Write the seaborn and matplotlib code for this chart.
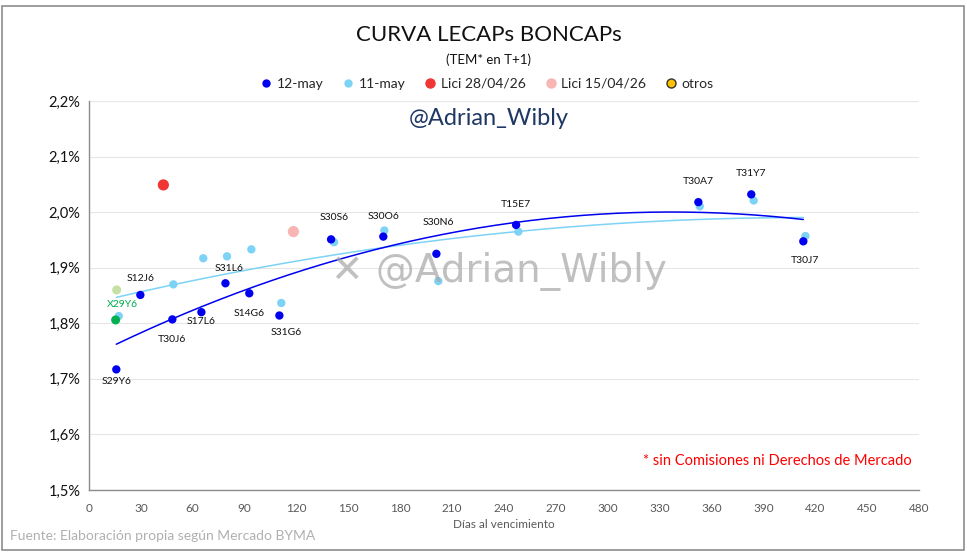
import numpy as np
import pandas as pd
import matplotlib
matplotlib.use("Agg")
import matplotlib.pyplot as plt
from matplotlib.patches import Rectangle
from matplotlib.lines import Line2D
import seaborn as sns

# ---------------- data ----------------
tickers = ["S29Y6", "S12J6", "T30J6", "S17L6", "S31L6", "S14G6", "S31G6",
           "S30S6", "S30O6", "S30N6", "T15E7", "T30A7", "T31Y7", "T30J7"]
dias_12 = [15.8, 29.7, 48.2, 65.0, 78.9, 92.7, 110.1, 140.0, 170.2, 200.9, 247.0, 352.4, 383.0, 413.1]
tem_12 = [1.717, 1.851, 1.807, 1.820, 1.872, 1.854, 1.814, 1.951, 1.956, 1.925, 1.977, 2.018, 2.032, 1.9475]
dias_11 = [17.2, 48.8, 66.1, 79.8, 93.9, 111.2, 141.7, 170.8, 202.0, 248.3, 353.2, 384.4, 414.3]
tem_11 = [1.813, 1.870, 1.917, 1.9205, 1.933, 1.8365, 1.946, 1.967, 1.876, 1.965, 2.0105, 2.021, 1.957]
lici_2804_x, lici_2804_y = [43.0], [2.049]
lici_1504_x, lici_1504_y = [118.2], [1.965]
otros_names = ["X29Y6", "X29Y6 (11-may)"]
otros_x = [15.4, 16.0]
otros_y = [1.806, 1.860]
otros_colors = ["#00B050", "#C5E0A5"]

label_offsets = {  # (dx days, dy %) for labels
    "S29Y6": (0, -0.021), "S12J6": (0, 0.030), "T30J6": (0, -0.036), "S17L6": (0, -0.016),
    "S31L6": (2, 0.027), "S14G6": (0, -0.037), "S31G6": (4, -0.030), "S30S6": (2, 0.040),
    "S30O6": (0, 0.037), "S30N6": (1, 0.057), "T15E7": (0, 0.036), "T30A7": (0, 0.038),
    "T31Y7": (0, 0.038), "T30J7": (1, -0.034),
}

df12 = pd.DataFrame({"dias": dias_12, "tem": tem_12, "ticker": tickers})
df11 = pd.DataFrame({"dias": dias_11, "tem": tem_11})

DARK = "#0000F0"
LIGHT = "#7DD3F5"
RED = "#F03535"
PINK = "#F9B4B4"
GOLD = "#FFC000"

sns.set_theme(style="white")
plt.rcParams["font.family"] = ["Lato", "DejaVu Sans"]

fig = plt.figure(figsize=(9.67, 5.54), dpi=100)
ax = fig.add_axes([89 / 967, 1 - 490 / 554, 830 / 967, 389 / 554])

# trend lines (polynomial fits as in the spreadsheet)
c12 = np.polyfit(df12["dias"], df12["tem"], 2)
c11 = np.polyfit(df11["dias"], df11["tem"], 2)
xs = np.linspace(min(dias_12), max(dias_12), 200)
ax.plot(xs, np.polyval(c11, xs), color=LIGHT, lw=1.1, zorder=3)
ax.plot(xs, np.polyval(c12, xs), color=DARK, lw=1.1, zorder=3)

sns.scatterplot(data=df11, x="dias", y="tem", color=LIGHT, s=36, edgecolor="none", ax=ax, zorder=4)
sns.scatterplot(data=df12, x="dias", y="tem", color=DARK, s=36, edgecolor="none", ax=ax, zorder=5)
ax.scatter(lici_2804_x, lici_2804_y, color=RED, s=65, edgecolor="none", zorder=5)
ax.scatter(lici_1504_x, lici_1504_y, color=PINK, s=65, edgecolor="none", zorder=5)
ax.scatter(otros_x, otros_y, color=otros_colors, s=42, edgecolor="none", zorder=5)

for t, x, y in zip(tickers, dias_12, tem_12):
    dx, dy = label_offsets[t]
    ax.text(x + dx, y + dy, t, fontsize=7.5, ha="center", va="center", color="#111111", zorder=6)
ax.text(otros_x[0] + 4, 1.8335, "X29Y6", fontsize=7.5, ha="center", va="center", color="#00B050", zorder=6)

ax.set_xlim(0, 480)
ax.set_ylim(1.5, 2.2)
ax.set_xticks(np.arange(0, 481, 30))
ax.set_yticks(np.arange(1.5, 2.201, 0.1))
ax.set_yticklabels([f"{v:.1f}%".replace(".", ",") for v in np.arange(1.5, 2.201, 0.1)],
                   fontsize=10.5, color="#111111")
ax.set_xticklabels([str(v) for v in range(0, 481, 30)], fontsize=8.5, color="#595959")
ax.tick_params(axis="both", direction="in", length=4, width=0.8, color="#7F7F7F", pad=6)
ax.tick_params(axis="x", pad=9)
ax.set_xlabel("Días al vencimiento", fontsize=8.5, color="#595959", labelpad=4)
ax.set_ylabel("")
ax.grid(axis="y", color="#E6E6E6", lw=0.8)
ax.set_axisbelow(True)
for s in ["top", "right"]:
    ax.spines[s].set_visible(False)
for s in ["left", "bottom"]:
    ax.spines[s].set_color("#8C8C8C")
    ax.spines[s].set_linewidth(1.0)

# watermarks
fig.text(489 / 967, 1 - 119 / 554, "@Adrian_Wibly", fontsize=17, color="#1F3864",
         ha="center", va="center")
fig.text(499 / 967, 1 - 271 / 554, "\u2715 @Adrian_Wibly", fontsize=28, color="#A6A6A6",
         alpha=0.7, ha="center", va="center", zorder=1,
         family=["DejaVu Sans"])
ax.text(398, 1.552, "* sin Comisiones ni Derechos de Mercado", fontsize=10.5, color="#FF0000",
        ha="center", va="center")

# titles
fig.text(489 / 967, 1 - 35 / 554, "CURVA LECAPs BONCAPs", fontsize=16, color="#111111",
         ha="center", va="center")
fig.text(489 / 967, 1 - 60 / 554, "(TEM* en T+1)", fontsize=9.5, color="#111111",
         ha="center", va="center")

handles = [
    Line2D([], [], marker="o", ls="", color=DARK, markersize=5),
    Line2D([], [], marker="o", ls="", color=LIGHT, markersize=5),
    Line2D([], [], marker="o", ls="", color=RED, markersize=6.5),
    Line2D([], [], marker="o", ls="", color=PINK, markersize=6.5),
    Line2D([], [], marker="o", ls="", color=GOLD, markeredgecolor="#333333", markersize=6.5),
]
labels = ["12-may", "11-may", "Lici 28/04/26", "Lici 15/04/26", "otros"]
fig.legend(handles, labels, loc="center", bbox_to_anchor=(487 / 967, 1 - 84 / 554), ncol=5,
           frameon=False, fontsize=10, handlelength=0.8, handletextpad=0.35, columnspacing=1.4)

fig.text(10 / 967, 1 - 536 / 554, "Fuente: Elaboración propia según Mercado BYMA", fontsize=10,
         color="#B0B0B0", ha="left", va="center")

fig.patches.append(Rectangle((2 / 967, 4 / 554), 962 / 967, 544 / 554, transform=fig.transFigure,
                             fill=False, edgecolor="#8C8C8C", lw=1.2))

fig.savefig("out.png", dpi=100)
